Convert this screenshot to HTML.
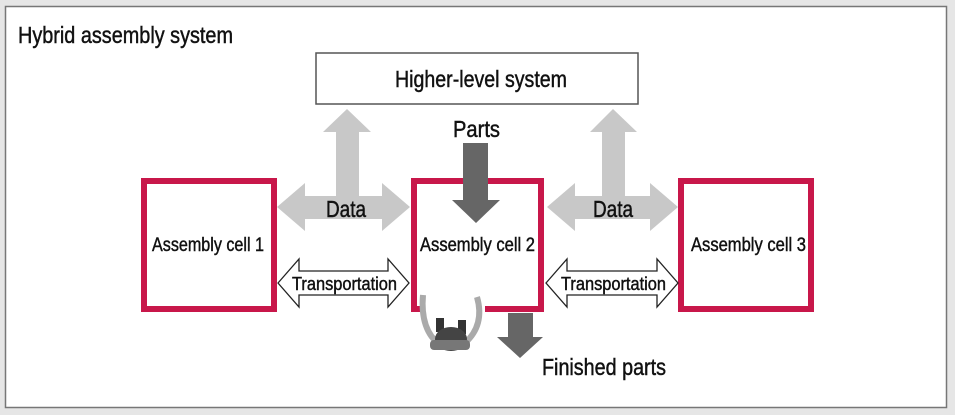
<!DOCTYPE html>
<html><head><meta charset="utf-8"><style>
html,body{margin:0;padding:0;background:#e6e6e6;}
svg{display:block;}
text{font-family:"Liberation Sans",sans-serif;fill:#111;stroke:#111;stroke-width:0.45;}
</style></head><body>
<svg width="955" height="415" viewBox="0 0 955 415" xmlns="http://www.w3.org/2000/svg">
<rect x="0" y="0" width="955" height="415" fill="#e6e6e6"/>
<rect x="5.5" y="6.5" width="941" height="401" fill="#fff" stroke="#777" stroke-width="1.5"/>
<text x="18" y="43" font-size="23" textLength="215" lengthAdjust="spacingAndGlyphs">Hybrid assembly system</text>
<rect x="316" y="53" width="322" height="51" fill="#fff" stroke="#555" stroke-width="1.5"/>
<text x="395" y="87" font-size="23" textLength="172" lengthAdjust="spacingAndGlyphs">Higher-level system</text>

<path d="M347,109 L371,132 L359,132 L359,196 L382,196 L382,183 L410,207 L382,231 L382,219 L305,219 L305,231 L277,207 L305,183 L305,196 L336,196 L336,132 L323,132 Z" fill="#c8c8c8"/>
<path d="M613,109 L637,132 L625,132 L625,196 L650,196 L650,183 L678,207 L650,231 L650,219 L575,219 L575,231 L547,207 L575,183 L575,196 L602,196 L602,132 L590,132 Z" fill="#c8c8c8"/>
<text x="326" y="217" font-size="23" textLength="40" lengthAdjust="spacingAndGlyphs">Data</text>
<text x="593" y="217" font-size="23" textLength="40" lengthAdjust="spacingAndGlyphs">Data</text>

<rect x="144" y="181" width="130" height="128" fill="#fff" stroke="#c8174a" stroke-width="6"/>
<rect x="681" y="181" width="130" height="128" fill="#fff" stroke="#c8174a" stroke-width="6"/>
<path d="M424,309 L414,309 L414,181 L541,181 L541,309 L485,309" fill="none" stroke="#c8174a" stroke-width="6"/>
<text x="152" y="251" font-size="19" textLength="112" lengthAdjust="spacingAndGlyphs">Assembly cell 1</text>
<text x="420" y="251" font-size="19" textLength="115" lengthAdjust="spacingAndGlyphs">Assembly cell 2</text>
<text x="691" y="251" font-size="19" textLength="115" lengthAdjust="spacingAndGlyphs">Assembly cell 3</text>

<text x="453" y="137" font-size="23" textLength="47" lengthAdjust="spacingAndGlyphs">Parts</text>
<path d="M463,143 L488,143 L488,200 L500,200 L476,223 L452,200 L463,200 Z" fill="#666"/>
<path d="M508,313 L533,313 L533,337 L543,337 L520,358 L497,337 L508,337 Z" fill="#666"/>
<text x="542" y="375" font-size="23" textLength="124" lengthAdjust="spacingAndGlyphs">Finished parts</text>

<path d="M278,283 L299,259 L299,271 L388,271 L388,259 L409,283 L388,307 L388,295 L299,295 L299,307 Z" fill="#fff" stroke="#222" stroke-width="1.3"/>
<path d="M546,283 L567,259 L567,271 L657,271 L657,259 L678,283 L657,307 L657,295 L567,295 L567,307 Z" fill="#fff" stroke="#222" stroke-width="1.3"/>
<text x="292" y="290" font-size="18" textLength="105" lengthAdjust="spacingAndGlyphs">Transportation</text>
<text x="561" y="290" font-size="18" textLength="105" lengthAdjust="spacingAndGlyphs">Transportation</text>

<path d="M423,295 Q420,330 440,345" fill="none" stroke="#aaa" stroke-width="6"/>
<path d="M477,297 Q485,325 465,343" fill="none" stroke="#aaa" stroke-width="6"/>
<rect x="436" y="318" width="8" height="14" fill="#333"/>
<rect x="458" y="320" width="8" height="14" fill="#333"/>
<ellipse cx="451" cy="339" rx="16" ry="12" fill="#444"/>
<rect x="430" y="340" width="40" height="10" rx="4" fill="#777"/>
</svg>
</body></html>
